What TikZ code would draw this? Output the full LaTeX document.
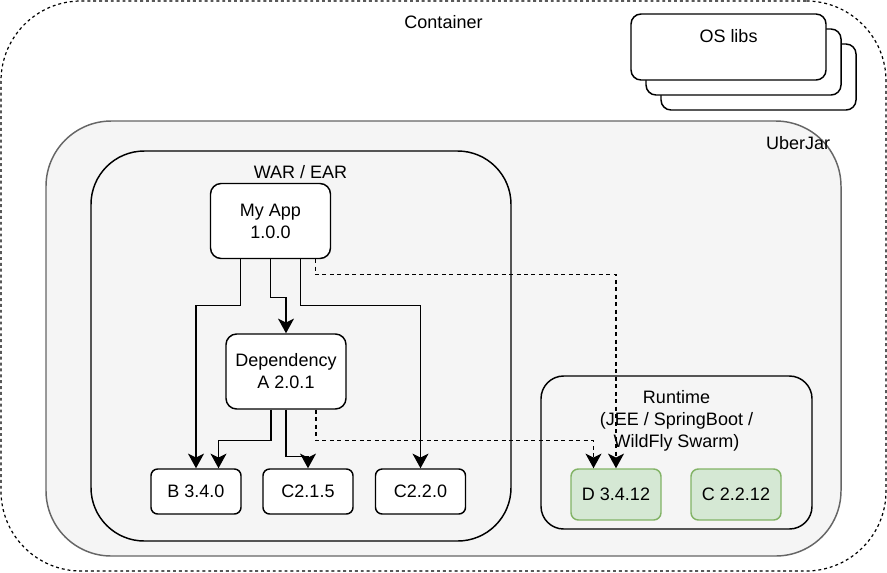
\documentclass[tikz,border=0pt]{standalone}
\usepackage{fontspec}
\setmainfont{Liberation Sans}
\usetikzlibrary{arrows.meta,calc,positioning}
\definecolor{uberfill}{HTML}{F5F5F5}
\definecolor{uberline}{HTML}{666666}
\definecolor{rtfill}{HTML}{D5E8D4}
\definecolor{rtline}{HTML}{82B366}

\begin{document}
\begin{tikzpicture}[x=0.75pt,y=0.75pt,yscale=-1,xscale=1,
  every node/.style={font=\fontsize{13.5}{16.5}\selectfont,inner sep=0pt},
  frame/.style={draw,line width=1.1pt,rounded corners=#1},
  app/.style={frame=8pt,fill=white,align=center,minimum width=90pt,minimum height=56.25pt},
  lib/.style={frame=5pt,fill=white,minimum width=67.5pt,minimum height=33.75pt},
  rtlib/.style={frame=5.5pt,draw=rtline,fill=rtfill,minimum width=67.5pt,minimum height=38.25pt},
  oslib/.style={frame=7.5pt,fill=white,minimum width=146.25pt,minimum height=49.5pt},
  uses/.style={line width=1.1pt,-{Stealth[length=11pt,width=12pt,inset=3pt]}},
  runs/.style={uses,dash pattern=on 3pt off 2.6pt}]

\useasboundingbox (0,0) rectangle (887,572);

\node (container) at (443.5,286) [frame=60pt,dash pattern=on 2.2pt off 2.2pt,line width=0.9pt,minimum width=663.75pt,minimum height=427.5pt] {};

\node (containerlabel) at (443.5,22) {Container};

\node (oslib3) at (758.5,77) [oslib] {};

\node (oslib2) at (743.5,62) [oslib] {};

\node (oslib1) at (728.5,47) [oslib] {};

\node (oslabel) at (728.5,36) {OS libs};

\node (uberjar) at (443.5,338.5) [frame=49pt,draw=uberline,fill=uberfill,minimum width=596.25pt,minimum height=326.25pt] {};

\node (uberlabel) at (798,143) {UberJar};

\node (war) at (301,346) [frame=40pt,minimum width=315pt,minimum height=292.5pt] {};

\node (warlabel) at (300.5,172.5) {WAR / EAR};

\node (runtime) at (676.5,452.5) [frame=17pt,minimum width=203.25pt,minimum height=114.75pt] {};

\node (rtlabel) at (676.5,421) [align=center] {Runtime\\(JEE / SpringBoot /\\WildFly Swarm)};

\node (app) at (270.5,221) [app] {My App\\1.0.0};

\node (dep) at (286,371.5) [app] {Dependency\\A 2.0.1};

\node (b) at (196,491.5) [lib] {B 3.4.0};

\node (c215) at (308,491.5) [lib] {C2.1.5};

\node (c220) at (420.5,491.5) [lib] {C2.2.0};

\node (d) at (616,494.5) [rtlib] {D 3.4.12};

\node (c2212) at (736,494.5) [rtlib] {C 2.2.12};


\draw [uses] ($(app.south)+(-30,0)$) -- ++(0,46) -| (b.north);

\draw [uses] (app.south) -- ++(0,38.5) -| (dep.north);

\draw [uses] ($(app.south)+(30,0)$) -- ++(0,46) -| (c220.north);

\draw [runs] ($(app.south)+(45,0)$) -- ++(0,15.5) -| (d.north);

\draw [uses] ($(dep.south)+(-15,0)$) -- ++(0,31) -| ($(b.north)+(22.5,0)$);

\draw [uses] (dep.south) -- ++(0,46.5) -| (c215.north);

\draw [runs] ($(dep.south)+(30,0)$) -- ++(0,31) -| ($(d.north)+(-22.5,0)$);

\end{tikzpicture}
\end{document}
